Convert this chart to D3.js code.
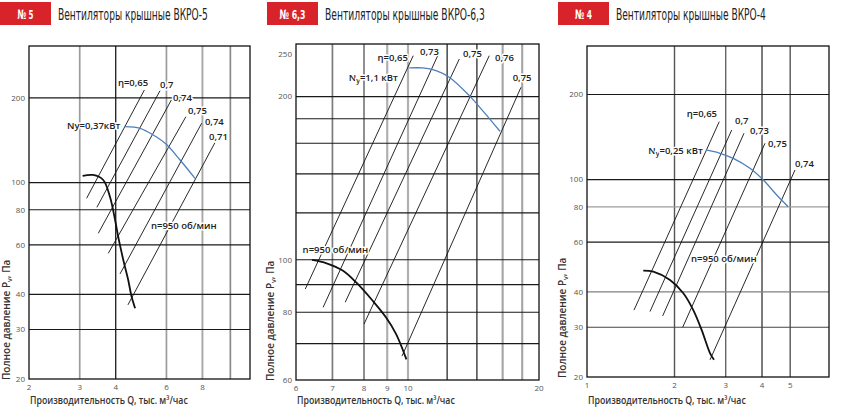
<!DOCTYPE html>
<html>
<head>
<meta charset="utf-8">
<script src="https://cdn.jsdelivr.net/npm/d3@7"></script>
<style>
  html, body { margin: 0; padding: 0; background: #fff; }
  svg { display: block; }
</style>
</head>
<body>
<svg id="chart" width="865" height="418"></svg>
<script>
// ---------- data: ВКРО-5 ----------
const v5Badge = "№ 5";
const v5Title = "Вентиляторы крышные ВКРО-5";
const v5XTicks = [2, 3, 4, 6, 8];
const v5YTicks = [200, 100, 80, 60, 40, 30, 20];
const v5XGrid = [3, 4, 6, 8, 10];
const v5YGrid = [200, 100, 80, 60, 40, 30];
const v5EffNames = ["η=0,65", "0,7", "0,74", "0,75", "0,74", "0,71"];
const v5EffLines = [
  [[3.17, 87.9], [5.03, 213.4]],
  [[3.44, 81.6], [5.70, 212.2]],
  [[3.48, 66.0], [6.24, 196.6]],
  [[3.77, 56.0], [7.01, 171.5]],
  [[4.14, 47.3], [7.95, 162.5]],
  [[4.41, 36.7], [8.84, 138.6]]
];
const v5EffLabelAt = [[4.07, 226], [5.70, 222], [6.32, 200.6], [7.13, 179.7], [8.16, 164.2], [8.43, 145.2]];
const v5Fan = [[3.07, 105.5], [3.34, 106.4], [3.62, 102.1], [3.82, 89.0], [3.98, 73.6], [4.08, 64.2],
               [4.25, 53.0], [4.42, 45.0], [4.54, 39.3], [4.67, 35.7]];
const v5Power = [[4.31, 158.0], [4.86, 155.8], [5.40, 147.6], [5.98, 137.1], [6.69, 120.3], [7.54, 103.5]];
const v5PowerLabel = ["Ny=0,37кВт", "", ""];
const v5PowerLabelAt = [2.71, 158.9];
const v5FanLabel = "n=950 об/мин";
const v5FanLabelAt = [5.30, 70.0];

// ---------- data: ВКРО-6,3 ----------
const v63Badge = "№ 6,3";
const v63Title = "Вентиляторы крышные ВКРО-6,3";
const v63XTicks = [6, 7, 8, 9, 10, 20];
const v63YTicks = [250, 200, 100, 80, 60];
const v63XGrid = [7, 8, 9, 10, 12.3, 14.4, 16.5, 18.3];
const v63YGrid = [200, 182, 164, 144, 122, 100, 90, 80, 70];
const v63EffNames = ["η=0,65", "0,73", "0,75", "0,76", "0,75"];
const v63EffLines = [
  [[6.24, 88.3], [10.28, 237.9]],
  [[6.73, 81.7], [11.80, 241.4]],
  [[7.39, 83.5], [13.12, 234.6]],
  [[8.00, 76.1], [15.37, 237.9]],
  [[9.70, 66.4], [18.18, 208.0]]
];
const v63EffLabelAt = [[8.57, 235.6], [10.66, 242.4], [13.38, 239.6], [15.85, 235.6], [17.40, 217.1]];
const v63Fan = [[6.42, 99.9], [6.83, 98.5], [7.31, 95.5], [7.74, 90.8], [8.36, 84.0], [8.94, 78.3],
                [9.41, 73.0], [9.92, 65.5]];
const v63Power = [[10.07, 225.8], [10.81, 225.8], [11.60, 223.2], [12.44, 217.1], [13.83, 200.8],
                  [14.84, 188.4], [16.27, 172.6]];
const v63PowerLabel = ["N", "у", "=1,1 кВт"];
const v63PowerLabelAt = [7.50, 217.1];
const v63FanLabel = "n=950 об/мин";
const v63FanLabelAt = [6.17, 104.2];

// ---------- data: ВКРО-4 ----------
const v4Badge = "№ 4";
const v4Title = "Вентиляторы крышные ВКРО-4";
const v4XTicks = [1, 2, 3, 4, 5];
const v4YTicks = [200, 100, 80, 60, 40, 30, 20];
const v4XGrid = [2, 3, 4, 5];
const v4YGrid = [200, 100, 80, 60, 40, 30];
const v4EffNames = ["η=0,65", "0,7", "0,73", "0,75", "0,74"];
const v4EffLines = [
  [[1.451, 34.5], [2.851, 160.3]],
  [[1.647, 34.1], [3.146, 149.7]],
  [[1.821, 32.9], [3.468, 145.8]],
  [[2.134, 30.0], [4.096, 134.4]],
  [[2.649, 23.0], [5.194, 108.1]]
];
const v4EffLabelAt = [[2.203, 171.6], [3.229, 161.6], [3.637, 148.9], [4.194, 134.4], [5.194, 114.1]];
const v4Fan = [[1.562, 47.6], [1.691, 47.2], [1.930, 44.1], [2.145, 39.6], [2.321, 34.5], [2.481, 29.3],
               [2.649, 24.3], [2.735, 23.0]];
const v4Power = [[2.567, 127.3], [2.868, 123.9], [3.186, 118.9], [3.637, 109.6], [4.042, 99.6],
                 [4.494, 88.2], [4.925, 80.1]];
const v4PowerLabel = ["N", "у", "=0,25 кВт"];
const v4PowerLabelAt = [1.625, 126.5];
const v4FanLabel = "n=950 об/мин";
const v4FanLabelAt = [2.279, 52.6];

const xTitle = "Производительность Q, тыс. м³/час";

// ---------- layout ----------
const NARROW = "'Liberation Sans Narrow', 'DejaVu Sans Condensed', sans-serif";
const SANS = "'Open Sans', 'Noto Sans', 'DejaVu Sans', sans-serif";
const RED = "#d9232b";
const BLUE = "#4d7fbf";

const panels = [
  {
    badge: v5Badge, title: v5Title, xTicks: v5XTicks, yTicks: v5YTicks, xGrid: v5XGrid, yGrid: v5YGrid,
    effNames: v5EffNames, effLines: v5EffLines, effLabelAt: v5EffLabelAt, fan: v5Fan, power: v5Power,
    powerLabel: v5PowerLabel, powerLabelAt: v5PowerLabelAt, fanLabel: v5FanLabel, fanLabelAt: v5FanLabelAt,
    xDomain: [2, 11.7], xRange: [29, 250], yDomain: [20, 306], top: 46, bottom: 379,
    badgeX: 0, badgeW: 16, titleW: 150, yTitleX: 9.5,
    xGridColor: ["#9c9c9c", "#1a1a1a", "#9c9c9c", "#a8a8a8", "#8a8a8a"],
    xGridWidth: [1.7, 1.3, 1.7, 1.9, 1.7],
    yGridColor: ["#1a1a1a", "#1a1a1a", "#1a1a1a", "#1a1a1a", "#1a1a1a", "#1a1a1a"]
  },
  {
    badge: v63Badge, title: v63Title, xTicks: v63XTicks, yTicks: v63YTicks, xGrid: v63XGrid, yGrid: v63YGrid,
    effNames: v63EffNames, effLines: v63EffLines, effLabelAt: v63EffLabelAt, fan: v63Fan, power: v63Power,
    powerLabel: v63PowerLabel, powerLabelAt: v63PowerLabelAt, fanLabel: v63FanLabel, fanLabelAt: v63FanLabelAt,
    xDomain: [6, 8, 10, 20], xRange: [296, 364, 408, 539], yDomain: [60, 250], top: 44, bottom: 380,
    badgeX: 267, badgeW: 26, titleW: 160, yTitleX: 274,
    xGridColor: ["#7c7c7c", "#7c7c7c", "#b0b0b0", "#b0b0b0", "#1a1a1a", "#1a1a1a", "#a4a4a4", "#a4a4a4"],
    xGridWidth: [1.7, 1.7, 2.2, 2.2, 1.2, 1.2, 2.1, 2.1],
    yGridColor: ["#1a1a1a", "#1a1a1a", "#1a1a1a", "#1a1a1a", "#1a1a1a", "#1a1a1a", "#1a1a1a", "#1a1a1a", "#1a1a1a"]
  },
  {
    badge: v4Badge, title: v4Title, xTicks: v4XTicks, yTicks: v4YTicks, xGrid: v4XGrid, yGrid: v4YGrid,
    effNames: v4EffNames, effLines: v4EffLines, effLabelAt: v4EffLabelAt, fan: v4Fan, power: v4Power,
    powerLabel: v4PowerLabel, powerLabelAt: v4PowerLabelAt, fanLabel: v4FanLabel, fanLabelAt: v4FanLabelAt,
    xDomain: [1, 6.8], xRange: [587, 829], yDomain: [20, 297], top: 46, bottom: 377,
    badgeX: 558, badgeW: 17, titleW: 150, yTitleX: 566,
    xGridColor: ["#555", "#666", "#444", "#555"],
    xGridWidth: [1.4, 1.4, 1.4, 1.4],
    yGridColor: ["#1a1a1a", "#1a1a1a", "#9c9c9c", "#1a1a1a", "#808080", "#444"]
  }
];

const svg = d3.select("#chart");

function halo(sel) {
  return sel.attr("stroke", "#fff").attr("stroke-width", 3).attr("stroke-linejoin", "round")
    .attr("paint-order", "stroke");
}

// squeeze a text horizontally to a given width (anchor = start or middle)
function fitText(sel, x, y, w, anchor) {
  const len = sel.node().getComputedTextLength();
  const k = Math.min(1, w / len);
  sel.attr("text-anchor", anchor || "start")
    .attr("transform", `translate(${x},${y}) scale(${k},1)`);
}

function drawPanel(p) {
  const g = svg.append("g");
  const x = d3.scaleLog().domain(p.xDomain).range(p.xRange);
  const y = d3.scaleLog().domain(p.yDomain).range([p.bottom, p.top]);
  const left = p.xRange[0];
  const right = p.xRange[p.xRange.length - 1];

  // header
  g.append("rect")
    .attr("x", p.badgeX).attr("y", 2).attr("width", 51).attr("height", 23)
    .attr("fill", RED);
  g.append("text")
    .attr("fill", "#fff")
    .attr("font-family", NARROW).attr("font-weight", "bold").attr("font-size", 13)
    .text(p.badge)
    .call(fitText, p.badgeX + 25.5, 18.5, p.badgeW, "middle");
  g.append("text")
    .attr("fill", "#222")
    .attr("font-family", NARROW).attr("font-size", 15)
    .text(p.title)
    .call(fitText, p.badgeX + 58, 19.5, p.titleW);

  // grid
  g.selectAll(".vgrid").data(p.xGrid).join("line")
    .attr("x1", d => x(d)).attr("x2", d => x(d))
    .attr("y1", p.top).attr("y2", p.bottom)
    .attr("stroke", (d, i) => p.xGridColor[i])
    .attr("stroke-width", (d, i) => p.xGridWidth[i]);
  g.selectAll(".hgrid").data(p.yGrid).join("line")
    .attr("x1", left).attr("x2", right)
    .attr("y1", d => y(d)).attr("y2", d => y(d))
    .attr("stroke", (d, i) => p.yGridColor[i])
    .attr("stroke-width", 1.2);
  g.append("rect")
    .attr("x", left).attr("y", p.top)
    .attr("width", right - left).attr("height", p.bottom - p.top)
    .attr("fill", "none").attr("stroke", "#111").attr("stroke-width", 1.3);

  // tick labels
  g.selectAll(".xtick").data(p.xTicks).join("text")
    .attr("x", d => x(d)).attr("y", p.bottom + 11)
    .attr("text-anchor", "middle")
    .attr("font-family", SANS).attr("font-size", 8).attr("fill", "#555")
    .text(d => d);
  g.selectAll(".ytick").data(p.yTicks).join("text")
    .attr("x", left - 4).attr("y", d => Math.max(y(d), p.top + 10))
    .attr("dy", "0.35em")
    .attr("text-anchor", "end")
    .attr("font-family", SANS).attr("font-size", 8).attr("fill", "#555")
    .text(d => d);

  // axis titles
  g.append("text")
    .attr("font-family", SANS).attr("font-weight", 600).attr("font-size", 10).attr("fill", "#333")
    .text(xTitle)
    .call(fitText, left + 1, 404, 158);
  const yt = g.append("text")
    .attr("transform", `translate(${p.yTitleX},${p.bottom + 1}) rotate(-90)`)
    .attr("font-family", SANS).attr("font-weight", 600).attr("font-size", 10).attr("fill", "#333");
  yt.append("tspan").text("Полное давление P");
  yt.append("tspan").attr("font-size", 7).attr("dy", 2).text("v");
  yt.append("tspan").attr("dy", -2).text(", Па");

  // efficiency lines
  const straight = d3.line().x(d => x(d[0])).y(d => y(d[1]));
  g.selectAll(".eff").data(p.effLines).join("path")
    .attr("d", straight)
    .attr("fill", "none").attr("stroke", "#111").attr("stroke-width", 0.9);

  // power curve and fan curve
  const smooth = d3.line().curve(d3.curveCatmullRom.alpha(0.5)).x(d => x(d[0])).y(d => y(d[1]));
  g.append("path").datum(p.power)
    .attr("d", smooth)
    .attr("fill", "none").attr("stroke", BLUE).attr("stroke-width", 1.3);
  g.append("path").datum(p.fan)
    .attr("d", smooth)
    .attr("fill", "none").attr("stroke", "#111").attr("stroke-width", 1.8);

  // labels
  g.selectAll(".efflabel").data(p.effNames).join("text")
    .attr("x", (d, i) => x(p.effLabelAt[i][0]))
    .attr("y", (d, i) => y(p.effLabelAt[i][1]))
    .attr("dy", "0.35em")
    .attr("font-family", SANS).attr("font-weight", 600).attr("font-size", 9.5).attr("fill", "#222")
    .call(halo)
    .text(d => d);

  const pl = g.append("text")
    .attr("x", x(p.powerLabelAt[0])).attr("y", y(p.powerLabelAt[1]))
    .attr("dy", "0.35em")
    .attr("font-family", SANS).attr("font-weight", 600).attr("font-size", 9.5).attr("fill", "#222")
    .call(halo);
  pl.append("tspan").text(p.powerLabel[0]);
  if (p.powerLabel[1]) {
    pl.append("tspan").attr("font-size", 7).attr("dy", 2).text(p.powerLabel[1]);
    pl.append("tspan").attr("dy", -2).text(p.powerLabel[2]);
  }

  g.append("text")
    .attr("x", x(p.fanLabelAt[0])).attr("y", y(p.fanLabelAt[1]))
    .attr("dy", "0.35em")
    .attr("font-family", SANS).attr("font-weight", 600).attr("font-size", 9.5).attr("fill", "#222")
    .call(halo)
    .text(p.fanLabel);
}

panels.forEach(drawPanel);
</script>
</body>
</html>
